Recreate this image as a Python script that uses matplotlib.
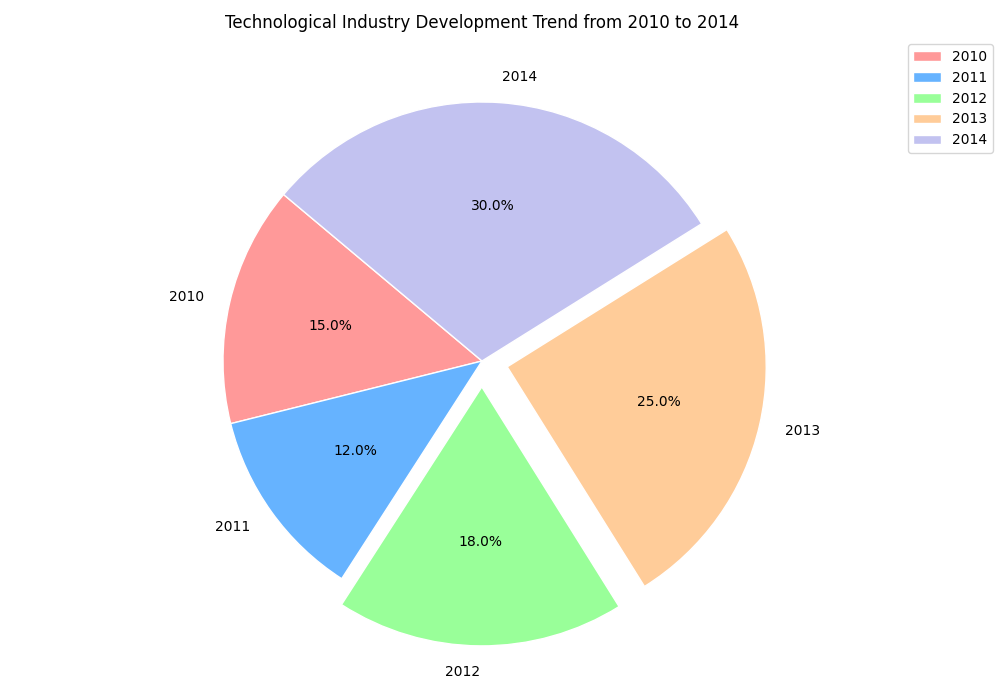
import matplotlib
matplotlib.use("Agg")
import matplotlib.pyplot as plt

years = ["2010", "2011", "2012", "2013", "2014"]
shares = [15, 12, 18, 25, 30]
colors = ["#ff9999", "#66b3ff", "#99ff99", "#ffcc99", "#c2c2f0"]
explode = [0, 0, 0.1, 0.1, 0]

R_PX = 259  # pie radius in pixels, centre at about (482, 361) from top-left

fig = plt.figure(figsize=(10, 7), dpi=100)
ax = fig.add_axes([0, 0, 1, 1])
ax.pie(shares, labels=years, colors=colors, explode=explode,
       autopct="%1.1f%%", startangle=140,
       wedgeprops={"edgecolor": "white"})
ax.set_aspect("auto")
ax.set_xlim(-482 / R_PX, 518 / R_PX)
ax.set_ylim(-339 / R_PX, 361 / R_PX)
ax.axis("off")

fig.text(0.482, 1 - 23 / 700,
         "Technological Industry Development Trend from 2010 to 2014",
         ha="center", va="center", fontsize=12)
ax.legend(loc="upper right", bbox_to_anchor=(0.993, 0.937),
          bbox_transform=fig.transFigure, borderaxespad=0)
fig.savefig("out.png")
